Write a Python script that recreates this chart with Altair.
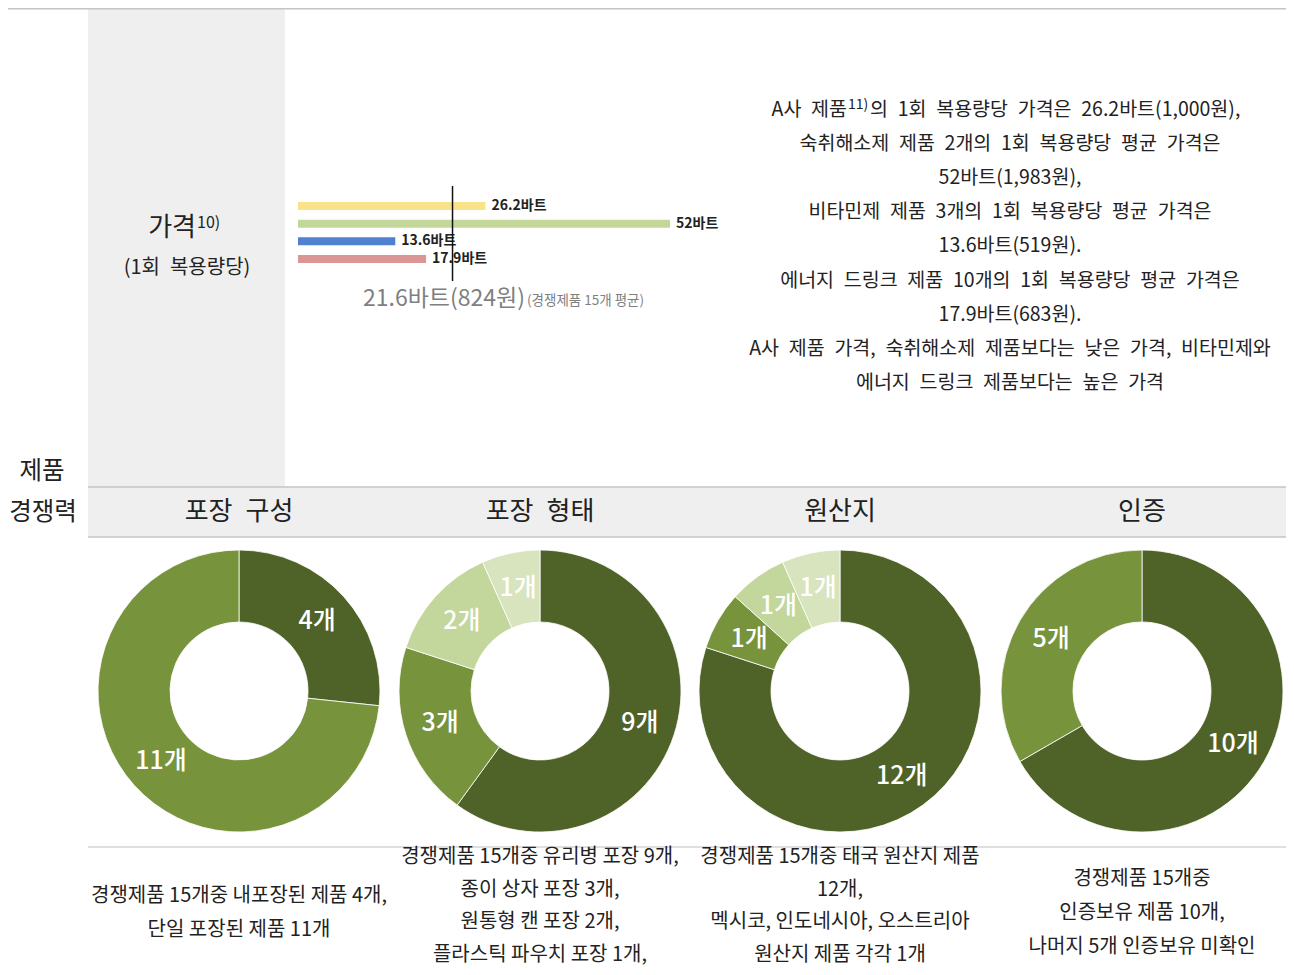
import math
import altair as alt
import pandas as pd

# ---------------- data ----------------
bar_names = ["A사 제품", "숙취해소제 제품", "비타민제 제품", "에너지 드링크 제품"]
bar_values = [26.2, 52.0, 13.6, 17.9]
bar_labels = ["26.2바트", "52바트", "13.6바트", "17.9바트"]
bar_colors = ["#f9e38a", "#c4d79b", "#4f81d0", "#d99694"]
avg_value = 21.6
avg_label = "21.6바트(824원)"
avg_note = "(경쟁제품 15개 평균)"

donut_titles = ["포장 구성", "포장 형태", "원산지", "인증"]
donut_counts = [[4, 11], [9, 3, 2, 1], [12, 1, 1, 1], [10, 5]]
donut_labels = [["4개", "11개"], ["9개", "3개", "2개", "1개"],
                ["12개", "1개", "1개", "1개"], ["10개", "5개"]]
shade_colors = ["#4f6228", "#77933c", "#c3d69b", "#d7e4bd"]

section_label = ["제품", "경쟁력"]
price_title = "가격"
price_sup = "10)"
price_sub = "(1회 복용량당)"

para_first = ["A사 제품", "11)", "의 1회 복용량당 가격은 26.2바트(1,000원),"]
para_rest = [
    "숙취해소제 제품 2개의 1회 복용량당 평균 가격은",
    "52바트(1,983원),",
    "비타민제 제품 3개의 1회 복용량당 평균 가격은",
    "13.6바트(519원).",
    "에너지 드링크 제품 10개의 1회 복용량당 평균 가격은",
    "17.9바트(683원).",
    "A사 제품 가격, 숙취해소제 제품보다는 낮은 가격, 비타민제와",
    "에너지 드링크 제품보다는 높은 가격",
]
desc = [
    ["경쟁제품 15개중 내포장된 제품 4개,", "단일 포장된 제품 11개"],
    ["경쟁제품 15개중 유리병 포장 9개,", "종이 상자 포장 3개,", "원통형 캔 포장 2개,", "플라스틱 파우치 포장 1개,"],
    ["경쟁제품 15개중 태국 원산지 제품", "12개,", "멕시코, 인도네시아, 오스트리아", "원산지 제품 각각 1개"],
    ["경쟁제품 15개중", "인증보유 제품 10개,", "나머지 5개 인증보유 미확인"],
]

# ---------------- layout ----------------
FONT = "Noto Sans CJK KR"
TXT = "#222222"
W, H = 1278, 959
OFF = 8
X = alt.Scale(domain=[OFF, OFF + W], range=[0, W], nice=False, zero=False)
Y = alt.Scale(domain=[OFF, OFF + H], range=[0, H], nice=False, zero=False)

col_centers = [239, 540, 840, 1142]
donut_cy = 691
R_OUT, R_IN = 141, 69
R_LAB = (R_OUT + R_IN) / 2
EN = "\u2002"


def wide(t, sp=EN):
    return t.replace(" ", sp)


def xq(f):
    return alt.X(f, scale=X, axis=None)


def yq(f):
    return alt.Y(f, scale=Y, axis=None)


layers = []

# background panels
panels = pd.DataFrame([
    dict(x=88, x2=285, y=5, y2=487, c="#efefef"),
    dict(x=88, x2=1294, y=487, y2=537, c="#efefef"),
])
layers.append(alt.Chart(panels).mark_rect().encode(
    x=xq("x:Q"), x2="x2:Q", y=yq("y:Q"), y2="y2:Q", color=alt.Color("c:N", scale=None)))

# separator lines
lines = pd.DataFrame([
    dict(x=0, x2=1294, y=8.8, c="#c4c4c4"),
    dict(x=88, x2=1294, y=487, c="#c4c4c4"),
    dict(x=88, x2=1294, y=537, c="#c4c4c4"),
    dict(x=88, x2=1294, y=847, c="#d4d4d4"),
])
layers.append(alt.Chart(lines).mark_rule(strokeWidth=1.5).encode(
    x=xq("x:Q"), x2="x2:Q", y=yq("y:Q"), color=alt.Color("c:N", scale=None)))

# price bars
bars_df = pd.DataFrame({"name": bar_names, "value": bar_values,
                        "label": bar_labels, "color": bar_colors})
BX = alt.Scale(domain=[0, 52], range=[298 - OFF, 670 - OFF], nice=False, zero=True)
BY = alt.Scale(type="point", domain=bar_names, range=[206 - OFF, 259 - OFF], padding=0)
base_bar = alt.Chart(bars_df).encode(
    x=alt.X("value:Q", scale=BX, axis=None),
    y=alt.Y("name:N", scale=BY, axis=None),
)
layers.append(base_bar.mark_bar(height=8).encode(color=alt.Color("color:N", scale=None)))
layers.append(base_bar.mark_text(align="left", baseline="middle", dx=6, font=FONT,
                                 fontSize=14, fontWeight=600, color=TXT).encode(text="label:N"))
layers.append(alt.Chart(pd.DataFrame({"v": [avg_value]})).mark_rule(color="#111111", strokeWidth=1.5).encode(
    x=alt.X("v:Q", scale=BX, axis=None), y=alt.value(186 - OFF), y2=alt.value(281 - OFF)))

# donuts
rows = []
for i, (counts, labs) in enumerate(zip(donut_counts, donut_labels)):
    total = sum(counts)
    cum = 0
    for j, (c, lab) in enumerate(zip(counts, labs)):
        mid = (cum + c / 2) / total * 2 * math.pi
        rows.append(dict(donut=donut_titles[i], t0=cum, t1=cum + c, label=lab,
                         color=shade_colors[j], cx=col_centers[i], cy=donut_cy,
                         lx=col_centers[i] + R_LAB * math.sin(mid),
                         ly=donut_cy - R_LAB * math.cos(mid)))
        cum += c
donut_df = pd.DataFrame(rows)
TOTAL = sum(donut_counts[0])
layers.append(alt.Chart(donut_df).mark_arc(radius=R_OUT, radius2=R_IN, stroke="white", strokeWidth=0.8).encode(
    x=xq("cx:Q"), y=yq("cy:Q"),
    theta=alt.Theta("t0:Q", scale=alt.Scale(domain=[0, TOTAL], range=[0, 2 * math.pi])),
    theta2="t1:Q",
    color=alt.Color("color:N", scale=None),
))
layers.append(alt.Chart(donut_df).mark_text(align="center", baseline="middle", font=FONT, fontSize=25,
                                            fontWeight=500, color="white").encode(
    x=xq("lx:Q"), y=yq("ly:Q"), text="label:N"))


def text_layer(items, align="center", size=20, color=TXT, weight=400):
    d = pd.DataFrame(items, columns=["text", "x", "y"])
    return alt.Chart(d).mark_text(align=align, baseline="middle", font=FONT, fontSize=size,
                                  color=color, fontWeight=weight).encode(
        x=xq("x:Q"), y=yq("y:Q"), text="text:N")


# average label
layers.append(text_layer([(avg_label, 525, 299)], align="right", size=23, color="#7f7f7f"))
layers.append(text_layer([(avg_note, 527, 301)], align="left", size=13.5, color="#7f7f7f"))

# left labels
layers.append(text_layer([(section_label[0], 42, 472), (section_label[1], 43, 513)], size=24.5))
layers.append(text_layer([(price_title, 196, 228)], align="right", size=26))
layers.append(text_layer([(price_sup, 197, 223)], align="left", size=16))
layers.append(text_layer([(wide(price_sub), 187, 268)], size=20))

# header band titles
layers.append(text_layer([(wide(t), cx, 512) for t, cx in zip(donut_titles, col_centers)], size=26))

# right paragraph
PS = 19.5
layers.append(text_layer([(wide(para_first[0]), 847, 110)], align="right", size=PS))
layers.append(text_layer([(para_first[1], 848, 105)], align="left", size=14))
layers.append(text_layer([(wide(para_first[2]), 870, 110)], align="left", size=PS))
para_y = [144, 178, 212, 246, 281, 315, 349, 383]
layers.append(text_layer([(wide(t), 1010, y) for t, y in zip(para_rest, para_y)], size=PS))

# descriptions under donuts
desc_start = [896, 857, 857, 879]
desc_step = [34, 32.7, 32.7, 34]
items = []
for lines_, cx, y0, st in zip(desc, col_centers, desc_start, desc_step):
    for k, t in enumerate(lines_):
        items.append((t, cx, y0 + st * k))
layers.append(text_layer(items, size=20))

chart = alt.layer(*layers).resolve_scale(
    x="independent", y="independent", color="independent", theta="independent"
).properties(
    width=W, height=H, autosize=alt.AutoSizeParams(type="none"), padding=0
).configure_view(stroke=None)

chart.save("out.html", embed_options={"renderer": "svg", "actions": False})
